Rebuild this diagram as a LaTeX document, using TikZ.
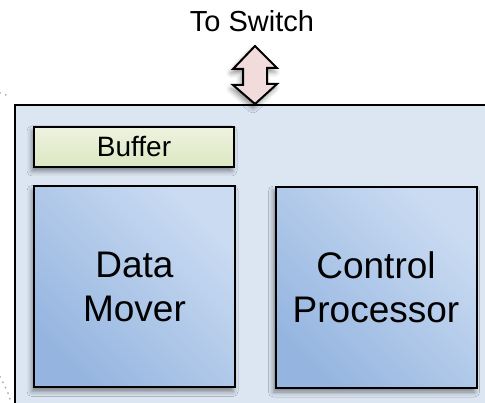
\documentclass[tikz,border=0pt]{standalone}
\usepackage{fontspec}
\setmainfont{Liberation Sans}
\usetikzlibrary{shadows.blur}

\definecolor{panelfill}{HTML}{DCE6F2}
\definecolor{bufferlight}{HTML}{EEF3DF}
\definecolor{bufferdark}{HTML}{DCE7C2}
\definecolor{unitdark}{HTML}{95B5E0}
\definecolor{unitlight}{HTML}{CBDCF2}
\definecolor{linkfill}{HTML}{F2DCDB}

\tikzset{
  softshadow/.style={blur shadow={shadow xshift=-2pt, shadow yshift=-4pt,
      shadow blur radius=5pt, shadow opacity=45}},
  unitbox/.style={draw=black, line width=2pt, softshadow,
      shading=axis, left color=unitdark, right color=unitlight, shading angle=135,
      minimum width=201pt, minimum height=201pt, inner sep=0pt,
      font=\fontsize{37}{44}\selectfont, align=center},
  bufferbox/.style={draw=black, line width=2pt, softshadow,
      shading=axis, top color=bufferlight, bottom color=bufferdark,
      minimum width=200pt, minimum height=40pt, inner sep=0pt,
      font=\fontsize{28}{32}\selectfont},
  linkarrow/.style={draw=black, line width=2pt, line join=miter,
      fill=linkfill, softshadow},
  dotline/.style={draw=gray!70, line width=2pt, line cap=round,
      dash pattern=on 0pt off 6pt},
}

\begin{document}
\begin{tikzpicture}[x=1pt, y=-1pt]
  \useasboundingbox (0,0) rectangle (485,403);
  \clip (0,0) rectangle (485,403);

  % surrounding dotted outline, partly visible at the left
  \draw[dotline] (0,93) -- (9,96);
  \draw[dotline] (0,377) .. controls (5,386) and (9,394) .. (11,403);

  % network interface panel
  \node[draw=black, line width=2pt, fill=panelfill, anchor=north west,
        minimum width=500pt, minimum height=320pt, inner sep=0pt] (panel) at (14,104) {};

  % label above the panel
  \node[font=\fontsize{29}{32}\selectfont, anchor=base] (switch) at (252,32) {To Switch};

  % two-way link between the label and the panel
  \coordinate (linktop) at (255,46);
  \coordinate (linkbot) at (panel.north -| linktop);
  \draw[linkarrow] (linktop) -- ++(22,22) -- ++(-10,0) -- ++(0,16) -- ++(10,0)
      -- (linkbot) -- ++(-22,-19) -- ++(10,0) -- ++(0,-16) -- ++(-10,0) -- cycle;

  % components inside the panel
  \node[bufferbox] (buffer) at (134,147) {Buffer};
  \node[unitbox] (mover) at (134.5,287) {Data\\Mover};
  \node[unitbox] (ctrl) at (376,287.5) {Control\\Processor};
\end{tikzpicture}
\end{document}
